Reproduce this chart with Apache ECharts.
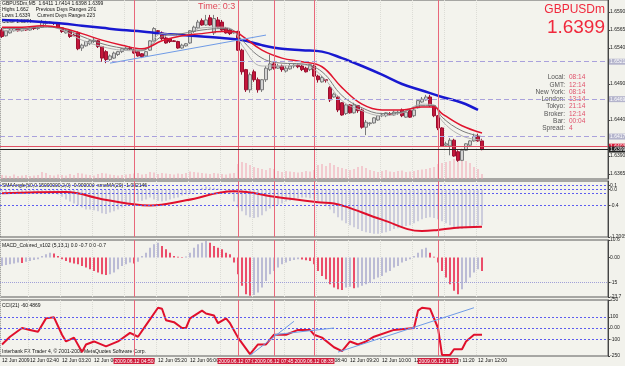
<!DOCTYPE html>
<html>
<head>
<meta charset="utf-8">
<script src="https://cdn.jsdelivr.net/npm/echarts@6/dist/echarts.min.js"></script>
<style>
html,body{margin:0;padding:0;background:#f2f2ec;}
#main{width:625px;height:366px;}
</style>
</head>
<body>
<div id="main"></div>
<script>
var upColor = '#d4d4d4';
var downColor = '#c4163a';
var textFont = 'Liberation Sans';

// bars: [open, close, low, high]
var candles = [
  [1.6565,1.6556,1.6554,1.6568],[1.6557,1.6564,1.6556,1.6565],[1.6561,1.6565,1.6560,1.6567],[1.6564,1.6567,1.6563,1.6568],
  [1.6567,1.6564,1.6563,1.6568],[1.6564,1.6567,1.6563,1.6568],[1.6567,1.6565,1.6564,1.6568],[1.6565,1.6568,1.6564,1.6569],
  [1.6568,1.6567,1.6565,1.6569],[1.6567,1.6568,1.6565,1.6569],[1.6569,1.6576,1.6568,1.6579],[1.6574,1.6576,1.6572,1.6578],
  [1.6575,1.6576,1.6574,1.6577],[1.6575,1.6574,1.6572,1.6576],[1.6574,1.6568,1.6567,1.6575],[1.6568,1.6563,1.6561,1.6569],
  [1.6561,1.6564,1.6560,1.6565],[1.6564,1.6556,1.6554,1.6565],[1.6558,1.6557,1.6557,1.6560],[1.6561,1.6539,1.6537,1.6563],
  [1.6540,1.6544,1.6536,1.6546],[1.6543,1.6549,1.6542,1.6550],[1.6546,1.6550,1.6544,1.6551],[1.6549,1.6551,1.6547,1.6554],
  [1.6550,1.6542,1.6540,1.6551],[1.6542,1.6526,1.6521,1.6543],[1.6535,1.6524,1.6519,1.6537],[1.6524,1.6529,1.6522,1.6531],
  [1.6526,1.6533,1.6525,1.6535],[1.6531,1.6535,1.6529,1.6536],[1.6535,1.6539,1.6533,1.6540],[1.6537,1.6540,1.6536,1.6542],
  [1.6540,1.6539,1.6537,1.6542],[1.6537,1.6533,1.6532,1.6539],[1.6535,1.6529,1.6528,1.6536],[1.6532,1.6528,1.6526,1.6533],
  [1.6529,1.6535,1.6528,1.6536],[1.6537,1.6550,1.6536,1.6551],[1.6550,1.6567,1.6549,1.6569],[1.6564,1.6563,1.6561,1.6565],
  [1.6561,1.6553,1.6551,1.6563],[1.6554,1.6547,1.6546,1.6556],[1.6553,1.6549,1.6547,1.6554],[1.6550,1.6549,1.6549,1.6551],
  [1.6549,1.6540,1.6539,1.6550],[1.6540,1.6544,1.6539,1.6546],[1.6543,1.6546,1.6542,1.6547],[1.6547,1.6564,1.6546,1.6565],
  [1.6563,1.6569,1.6561,1.6571],[1.6568,1.6576,1.6567,1.6579],[1.6578,1.6572,1.6571,1.6581],[1.6572,1.6579,1.6571,1.6586],
  [1.6582,1.6572,1.6571,1.6586],[1.6561,1.6581,1.6558,1.6586],[1.6579,1.6569,1.6568,1.6583],[1.6576,1.6565,1.6564,1.6579],
  [1.6568,1.6561,1.6560,1.6569],[1.6565,1.6560,1.6558,1.6567],[1.6561,1.6563,1.6560,1.6565],[1.6563,1.6537,1.6536,1.6564],
  [1.6537,1.6507,1.6503,1.6539],[1.6510,1.6482,1.6479,1.6511],[1.6482,1.6503,1.6478,1.6506],[1.6507,1.6496,1.6493,1.6510],
  [1.6496,1.6482,1.6478,1.6499],[1.6482,1.6496,1.6479,1.6497],[1.6496,1.6512,1.6493,1.6515],[1.6510,1.6518,1.6508,1.6531],
  [1.6518,1.6512,1.6510,1.6521],[1.6512,1.6515,1.6511,1.6518],[1.6515,1.6510,1.6507,1.6517],[1.6508,1.6512,1.6506,1.6515],
  [1.6511,1.6515,1.6510,1.6518],[1.6515,1.6516,1.6512,1.6518],[1.6516,1.6514,1.6512,1.6518],[1.6515,1.6510,1.6508,1.6517],
  [1.6512,1.6507,1.6506,1.6514],[1.6510,1.6517,1.6508,1.6518],[1.6515,1.6501,1.6500,1.6517],[1.6501,1.6496,1.6492,1.6503],
  [1.6493,1.6499,1.6492,1.6501],[1.6496,1.6495,1.6492,1.6497],[1.6485,1.6468,1.6465,1.6487],[1.6472,1.6476,1.6471,1.6478],
  [1.6472,1.6454,1.6451,1.6474],[1.6464,1.6447,1.6446,1.6465],[1.6449,1.6461,1.6447,1.6462],[1.6461,1.6450,1.6449,1.6462],
  [1.6450,1.6461,1.6449,1.6464],[1.6460,1.6453,1.6450,1.6461],[1.6454,1.6430,1.6428,1.6456],[1.6430,1.6437,1.6419,1.6440],
  [1.6435,1.6436,1.6432,1.6437],[1.6436,1.6443,1.6435,1.6444],[1.6440,1.6446,1.6439,1.6447],[1.6446,1.6447,1.6444,1.6450],
  [1.6446,1.6450,1.6444,1.6451],[1.6449,1.6448,1.6446,1.6451],[1.6447,1.6451,1.6446,1.6453],[1.6450,1.6451,1.6447,1.6453],
  [1.6454,1.6446,1.6444,1.6456],[1.6444,1.6451,1.6443,1.6453],[1.6453,1.6444,1.6443,1.6454],[1.6446,1.6454,1.6444,1.6456],
  [1.6457,1.6467,1.6456,1.6468],[1.6465,1.6469,1.6464,1.6472],[1.6468,1.6472,1.6467,1.6475],[1.6472,1.6460,1.6458,1.6475],
  [1.6460,1.6446,1.6444,1.6461],[1.6446,1.6429,1.6426,1.6447],[1.6429,1.6404,1.6403,1.6430],[1.6405,1.6407,1.6403,1.6410],
  [1.6404,1.6412,1.6391,1.6415],[1.6412,1.6390,1.6389,1.6414],[1.6396,1.6384,1.6382,1.6398],[1.6384,1.6398,1.6383,1.6400],
  [1.6398,1.6407,1.6397,1.6408],[1.6405,1.6411,1.6404,1.6412],[1.6411,1.6417,1.6410,1.6421],[1.6417,1.6411,1.6410,1.6421],
  [1.6411,1.6399,1.6398,1.6414]
];

var volumes = [
  40,35,30,45,30,35,40,30,35,40, 70,60,40,35,45,40,35,50,40,60,
  55,45,40,35,50,60,55,45,40,35, 40,45,50,55,60,45,50,70,65,50,
  60,55,50,45,55,50,60,75,70,65, 60,55,50,60,55,50,45,55,60,150,
  170,160,140,120,110,100,90,110,100,80, 70,80,75,70,65,70,80,75,90,140,
  150,130,160,140,120,110,100,90,100,120, 130,110,90,80,70,80,90,75,70,80,
  85,70,75,80,90,95,100,110,120,150, 160,170,180,200,250,220,180,160,120,100,
  50
];

// moving averages read at [bar index, price]
var maSlow = [[0,1.6579],[5,1.6578],[10,1.6576],[15,1.6574],[20,1.6571],[25,1.6568],[30,1.6565],[35,1.6563],[40,1.6560],[45,1.6558],[50,1.6556],[55,1.6554],[60,1.6551],[65,1.6544],[70,1.6539],[75,1.6537],[80,1.6535],[85,1.6526],[90,1.6515],[95,1.6503],[100,1.6490],[105,1.6481],[110,1.6472],[115,1.6464],[119,1.6454]];
var maRed = [[0,1.6569],[5,1.6569],[10,1.6571],[15,1.6568],[20,1.6560],[25,1.6551],[30,1.6544],[35,1.6539],[40,1.6550],[45,1.6557],[50,1.6560],[55,1.6563],[58,1.6563],[60,1.6557],[65,1.6537],[70,1.6526],[75,1.6521],[80,1.6514],[85,1.6485],[90,1.6462],[95,1.6454],[100,1.6454],[105,1.6458],[108,1.6458],[110,1.6449],[115,1.6432],[120,1.6422]];
var maGray = [[0,1.6567],[5,1.6567],[10,1.6569],[15,1.6567],[20,1.6556],[25,1.6546],[30,1.6540],[35,1.6537],[40,1.6556],[45,1.6560],[50,1.6565],[55,1.6567],[58,1.6564],[60,1.6551],[65,1.6526],[70,1.6519],[75,1.6518],[80,1.6507],[85,1.6474],[90,1.6457],[95,1.6449],[100,1.6451],[105,1.6460],[108,1.6460],[110,1.6444],[115,1.6425],[120,1.6417]];
var maLight = [[0,1.6564],[5,1.6565],[10,1.6571],[15,1.6565],[20,1.6551],[25,1.6542],[30,1.6537],[35,1.6536],[40,1.6560],[45,1.6557],[50,1.6568],[55,1.6569],[58,1.6564],[60,1.6544],[65,1.6515],[70,1.6515],[75,1.6517],[80,1.6501],[85,1.6467],[90,1.6453],[95,1.6446],[100,1.6450],[105,1.6462],[108,1.6461],[110,1.6439],[115,1.6418],[120,1.6412]];

var smaAngle = [
  -0.05,-0.06,-0.05,-0.04,-0.05,-0.06,-0.05,-0.04,-0.05,-0.06,-0.04,-0.03,-0.05,-0.08,-0.12,-0.18,
  -0.25,-0.3,-0.35,-0.4, -0.45,-0.5,-0.5,-0.52,-0.55, -0.6,-0.62,-0.58,-0.55,-0.5, -0.45,-0.42,-0.4,-0.35,
  -0.3,-0.28,-0.25,-0.2,-0.25,-0.28,-0.3,-0.28,-0.25,-0.22,-0.2,
  -0.15,-0.12,-0.1,-0.05,0.02,0.05,0.08,0.06,0.05,0.03,0.01,-0.05,-0.1,
  -0.3,-0.45,-0.55,-0.65,-0.7,-0.72, -0.7,-0.65,-0.55,-0.48,-0.42,
  -0.38,-0.35,-0.3,-0.28,-0.25,-0.22,-0.2, -0.2,-0.22,-0.25,-0.3,-0.35,-0.42,-0.5,
  -0.6,-0.7,-0.78,-0.85,-0.9,-0.95, -1.0,-1.05,-1.08,-1.1,-1.12,-1.12,-1.1,-1.08,-1.05,
  -1.0,-0.98,-0.95,-0.92,-0.9,-0.85,-0.8,-0.75, -0.72,-0.7,-0.72,-0.75,-0.8,-0.85,-0.9,
  -0.95,-1.0,-1.0,-0.98,-0.95,-0.92,-0.9,-0.9
];
var smoMA = [[0,-0.09],[16,-0.06],[25,-0.24],[33,-0.37],[37,-0.40],[46,-0.27],[58,-0.04],[69,-0.19],[79,-0.32],[83,-0.35],[86,-0.43],[95,-0.76],[105,-1.05],[109,-1.02],[113,-0.97],[120,-0.94]];

var macd = [
  -5,-4.5,-4,-3.5,-3,-3.2,-2.5,-2,-1.5,-1, 1,2,3,2.5,1,-1,-2,-3,-3.5,-4,
  -5,-6,-7,-8,-9,-10,-10.5,-10,-9,-7, -5,-4,-3,-3.5,-2.5,1,3,6,8,9,
  7,5,3,1,0.5,0.3,0.6,3,6,8, 9,10,9,7,6,5,3,2,-3,-10,
  -17,-22,-23,-22.5,-21,-18,-14,-10,-8,-6, -4,-3,-2,-1.5,-1,-1.2,-1.6,-2,-4,-8,
  -11,-13,-16,-18,-19,-19.5,-18,-17.5,-18.5,-18, -17,-16,-15,-13,-12,-11,-9,-8,-6,-5,
  -3,-2,-1,1,3,5,6,3,0.5,-3, -8,-12,-16,-20,-22,-19,-15,-12,-9,-7,
  -8
];

var cci = [[0,-147],[2,-78],[5,0],[7,-17],[9,-34],[11,86],[13,95],[15,-60],[16,-120],[18,-86],[20,-215],[21,-147],[23,-120],[26,-164],[29,-120],[32,-43],[34,-78],[36,26],[39,181],[40,172],[41,69],[43,52],[45,0],[46,0],[47,86],[50,155],[51,129],[53,112],[54,43],[56,86],[57,43],[59,-86],[62,-233],[64,-147],[66,-147],[68,-60],[71,-60],[74,-17],[77,-17],[78,-60],[80,-86],[83,-172],[85,-207],[87,-120],[89,-147],[91,-120],[93,-78],[98,-17],[103,0],[104,155],[105,181],[107,172],[109,0],[110,-240],[112,-240],[113,-190],[115,-190],[116,-120],[118,-60],[120,-60]];

var pivots = [{name: 'Pivot', value: 1.6521, at: 80}, {name: 'M2', value: 1.6469, at: 76}, {name: 'S1', value: 1.6417, at: 75}];
var bidPrice = 1.6399;
var askPrice = 1.6403;
var waveMarks = [{name: '1', value: [31, 1.6506]}, {name: '2', value: [57, 1.6506]}, {name: '3', value: [70, 1.6487]}, {name: '4', value: [77, 1.6486]}, {name: '5', value: [108, 1.6437]}];
var vLines = [33, 59, 68, 78, 109];
var vLineTimes = ['2009.06.12 04:50', '2009.06.12 07:00', '2009.06.12 07:45', '2009.06.12 08:35', '2009.06.12 11:10'];
var priceTicks = [1.6590, 1.6565, 1.6540, 1.6490, 1.6440, 1.6390, 1.6365];
var timeTickIdx = [0, 7, 15, 23, 31, 39, 47, 55, 63, 71, 79, 87, 95, 103, 111, 119];
var timeTickLabels = ['12 Jun 2009', '12 Jun 02:40', '12 Jun 03:20', '12 Jun 04:00', '12 Jun 04:40', '12 Jun 05:20', '12 Jun 06:00', '12 Jun 06:40', '12 Jun 07:20', '12 Jun 08:00', '12 Jun 08:40', '12 Jun 09:20', '12 Jun 10:00', '12 Jun 10:40', '12 Jun 11:20', '12 Jun 12:00'];
var infoLabels = ['Local:', 'GMT:', 'New York:', 'London:', 'Tokyo:', 'Broker:', 'Bar:', 'Spread:'];
var infoValues = ['08:14', '12:14', '08:14', '13:14', '21:14', '12:14', '00:04', '4'];

var cats = [];
for (var k = 0; k < 152; k++) {
    var m = 2 * 60 + 5 + k * 5;
    cats.push(('0' + Math.floor(m / 60)).slice(-2) + ':' + ('0' + (m % 60)).slice(-2));
}

function vLineData(withLabel) {
    return vLines.map(function (idx, n) {
        return {
            xAxis: idx,
            lineStyle: {color: '#e8677a', width: 1, type: 'solid'},
            label: withLabel ? {
                show: true, position: 'start', formatter: vLineTimes[n], distance: 2,
                color: '#fff', backgroundColor: '#d0203e', fontSize: 5, padding: [1, 1, 0, 1], fontFamily: textFont
            } : {show: false}
        };
    });
}

function levelData(levels, color, type) {
    return levels.map(function (v) {
        return {yAxis: v, lineStyle: {color: color, width: 1, type: type}, label: {show: false}};
    });
}

function priceLine(value, color, type, boxColor) {
    return {
        yAxis: value, lineStyle: {color: color, width: 1, type: type},
        label: {show: true, position: 'end', formatter: value.toFixed(4), distance: 1, fontSize: 5,
            color: '#fff', backgroundColor: boxColor, padding: [1, 1, 0, 1], fontFamily: textFont}
    };
}

function isTick(index) {
    return timeTickIdx.indexOf(index) >= 0;
}

var grids = [
    {left: 0, right: 17, top: 0, height: 179},
    {left: 0, right: 17, top: 181, height: 56},
    {left: 0, right: 17, top: 240, height: 57},
    {left: 0, right: 17, top: 300, height: 56}
].map(function (g) {
    g.show = true;
    g.borderColor = '#5a5a5a';
    g.borderWidth = 1;
    g.backgroundColor = '#f3f3ed';
    g.containLabel = false;
    g.outerBoundsMode = 'none';
    return g;
});

var xAxes = [0, 1, 2, 3].map(function (gi) {
    return {
        type: 'category',
        gridIndex: gi,
        data: cats,
        boundaryGap: true,
        axisLine: {show: false},
        axisTick: {show: false},
        axisLabel: gi === 3 ? {
            show: true, interval: 0, align: 'left', margin: 2, fontSize: 5, color: '#111', fontFamily: textFont,
            formatter: function (v, index) {
                var n = timeTickIdx.indexOf(index);
                return n >= 0 ? timeTickLabels[n] : '';
            }
        } : {show: false},
        splitLine: {show: true, interval: function (index) { return isTick(index); }, lineStyle: {color: '#dcdcd6', type: 'dotted'}}
    };
});

function rightAxis(gi, min, max, ticks, fmt) {
    return {
        type: 'value', gridIndex: gi, position: 'right', min: min, max: max,
        axisLine: {show: true, lineStyle: {color: '#444'}},
        axisTick: {show: true, length: 2, customValues: ticks, lineStyle: {color: '#444'}},
        axisLabel: {show: true, customValues: ticks, fontSize: 5, color: '#222', margin: 2, fontFamily: textFont, formatter: fmt},
        splitLine: {show: false}
    };
}

var myChart = echarts.init(document.getElementById('main'));

var option = {
    backgroundColor: '#f2f2ec',
    animation: false,
    grid: grids,
    xAxis: xAxes,
    yAxis: [
        rightAxis(0, 1.63581, 1.66067, priceTicks, function (v) { return v.toFixed(4); }),
        {type: 'value', gridIndex: 0, min: 0, max: 1800, show: false, splitLine: {show: false}},
        rightAxis(1, -1.2005, 0.2205, [0.2205, 0.1, 0, -0.4, -1.2005], function (v) { return v === 0 ? '0.0' : String(v); }),
        rightAxis(2, -23.7, 10.6, [10.6, 0, -15, -23.7], function (v) { return v === 0 ? '0.00' : String(v); }),
        rightAxis(3, -250, 250, [250, 100, 0, -100, -250], function (v) { return v === 0 ? '0.00' : String(v); })
    ],
    series: [
        {
            name: 'Volumes', type: 'bar', xAxisIndex: 0, yAxisIndex: 1, data: volumes, barWidth: 1,
            itemStyle: {color: '#f2a2b2'}, silent: true
        },
        {
            name: 'GBPUSDm', type: 'candlestick', xAxisIndex: 0, yAxisIndex: 0, data: candles, barWidth: 3,
            itemStyle: {color: upColor, color0: downColor, borderColor: '#7a7a7a', borderColor0: '#9a1030', borderWidth: 1},
            markLine: {
                silent: true, symbol: ['none', 'none'], precision: 5,
                data: vLineData(false).concat([
                    [{coord: [27, 1.6519]}, {coord: [66, 1.6558], lineStyle: {color: '#6f9be6', width: 1, type: 'solid'}}]
                ])
            }
        },
        {
            name: 'MA slow', type: 'line', xAxisIndex: 0, yAxisIndex: 0, data: maSlow, smooth: 0.4, showSymbol: false,
            lineStyle: {color: '#1818d0', width: 2.5},
            markLine: {
                silent: true, symbol: ['none', 'none'], precision: 5,
                data: pivots.map(function (p) {
                    return priceLine(p.value, '#a9a1dc', [5, 3], '#b4b4cc');
                }).concat([
                    priceLine(askPrice, '#e05064', 'solid', '#d81a38'),
                    priceLine(bidPrice, '#222', 'solid', '#222')
                ])
            }
        },
        {name: 'MA light', type: 'line', xAxisIndex: 0, yAxisIndex: 0, data: maLight, smooth: 0.4, showSymbol: false, lineStyle: {color: '#b4b4b4', width: 1}},
        {name: 'MA gray', type: 'line', xAxisIndex: 0, yAxisIndex: 0, data: maGray, smooth: 0.4, showSymbol: false, lineStyle: {color: '#7c7c7c', width: 1}},
        {name: 'MA red', type: 'line', xAxisIndex: 0, yAxisIndex: 0, data: maRed, smooth: 0.4, showSymbol: false, lineStyle: {color: '#e0142e', width: 1.5}},
        {
            name: 'Waves', type: 'scatter', xAxisIndex: 0, yAxisIndex: 0, data: waveMarks, symbolSize: 1,
            itemStyle: {opacity: 0}, silent: true,
            label: {show: true, position: 'inside', formatter: '{b}', color: '#e0405a', fontSize: 11, fontFamily: textFont}
        },
        {
            name: 'Pivot names', type: 'scatter', xAxisIndex: 0, yAxisIndex: 0, symbolSize: 1,
            data: pivots.map(function (p) { return {name: p.name, value: [p.at, p.value]}; }),
            itemStyle: {opacity: 0}, silent: true,
            label: {show: true, position: 'bottom', distance: 1, formatter: '{b}', color: '#a8a8a8', fontSize: 5, fontFamily: textFont}
        },
        {
            name: 'SMAAngle', type: 'bar', xAxisIndex: 1, yAxisIndex: 2, data: smaAngle, barWidth: 1,
            itemStyle: {color: '#a6a6cc'},
            markLine: {
                silent: true, symbol: ['none', 'none'], precision: 5,
                data: levelData([0.1, 0, -0.1, -0.4], '#5c5cf0', [2, 2]).concat(vLineData(false))
            }
        },
        {name: 'smoMA', type: 'line', xAxisIndex: 1, yAxisIndex: 2, data: smoMA, smooth: 0.4, showSymbol: false, lineStyle: {color: '#e0102c', width: 2}},
        {
            name: 'MACD', type: 'bar', xAxisIndex: 2, yAxisIndex: 3, data: macd, barWidth: 1.5,
            itemStyle: {
                color: function (p) {
                    var prev = p.dataIndex > 0 ? macd[p.dataIndex - 1] : p.value;
                    return p.value < prev ? '#e8163e' : '#a8a8cc';
                }
            },
            markLine: {
                silent: true, symbol: ['none', 'none'], precision: 5,
                data: levelData([-15], '#a0a0d8', 'dotted').concat(vLineData(false))
            }
        },
        {
            name: 'CCI', type: 'line', xAxisIndex: 3, yAxisIndex: 4, data: cci, showSymbol: false,
            lineStyle: {color: '#e0102c', width: 2},
            markLine: {
                silent: true, symbol: ['none', 'none'], precision: 5,
                data: levelData([100, 0, -100], '#5c5cf0', [2, 2]).concat(vLineData(true)).concat([
                    [{coord: [62, -245]}, {coord: [73, 60], lineStyle: {color: '#6f9be6', width: 1, type: 'solid'}}],
                    [{coord: [68, -60]}, {coord: [83, 0], lineStyle: {color: '#6f9be6', width: 1, type: 'solid'}}],
                    [{coord: [84, -215]}, {coord: [118, 181], lineStyle: {color: '#6f9be6', width: 1, type: 'solid'}}]
                ])
            }
        }
    ],
    graphic: [
        {type: 'text', left: 2, top: 1, style: {text: 'GBPUSDm,M5  1.6411 1.6414 1.6398 1.6399', fontSize: 5, fill: '#111', fontFamily: textFont}},
        {type: 'text', left: 2, top: 7, style: {text: 'Highs 1.662     Previous Days Ranges 201', fontSize: 5, fill: '#111', fontFamily: textFont}},
        {type: 'text', left: 2, top: 13, style: {text: 'Lows 1.6339     Current Days Ranges 223', fontSize: 5, fill: '#111', fontFamily: textFont}},
        {type: 'text', left: 2, top: 19, style: {text: 'Close 1.6374', fontSize: 5, fill: '#111', fontFamily: textFont}},
        {type: 'text', left: 198, top: 2, style: {text: 'Time: 0:3', fontSize: 9, fill: '#e04858', fontFamily: textFont}},
        {type: 'text', right: 20, top: 4, style: {text: 'GBPUSDm', fontSize: 12, fill: '#f0283c', fontFamily: textFont}},
        {type: 'text', right: 20, top: 18, style: {text: '1.6399', fontSize: 19, fill: '#f0283c', fontFamily: textFont}},
        {type: 'text', left: 2, top: 183, style: {text: 'SMAAngle(50,0.15000000,2,0) -0.900000  smoMA(20) -1.082146', fontSize: 5, fill: '#111', fontFamily: textFont}},
        {type: 'text', left: 2, top: 243, style: {text: 'MACD_Colored_v102 (5,13,1) 0.0 -0.7 0.0 -0.7', fontSize: 5, fill: '#111', fontFamily: textFont}},
        {type: 'text', left: 2, top: 303, style: {text: 'CCI(21) -60.4869', fontSize: 5, fill: '#111', fontFamily: textFont}},
        {type: 'text', left: 2, top: 349, style: {text: 'Interbank FX Trader 4, \u00a9 2001-2009 MetaQuotes Software Corp.', fontSize: 5, fill: '#111', fontFamily: textFont}}
    ].concat(infoLabels.map(function (t, n) {
        return {type: 'text', right: 60, top: 74 + n * 7.3, style: {text: t, fontSize: 6.5, fill: '#555', fontFamily: textFont}};
    })).concat(infoValues.map(function (t, n) {
        return {type: 'text', left: 569, top: 74 + n * 7.3, style: {text: t, fontSize: 6.5, fill: '#e0506a', fontFamily: textFont}};
    }))
};

myChart.setOption(option);
</script>
</body>
</html>
